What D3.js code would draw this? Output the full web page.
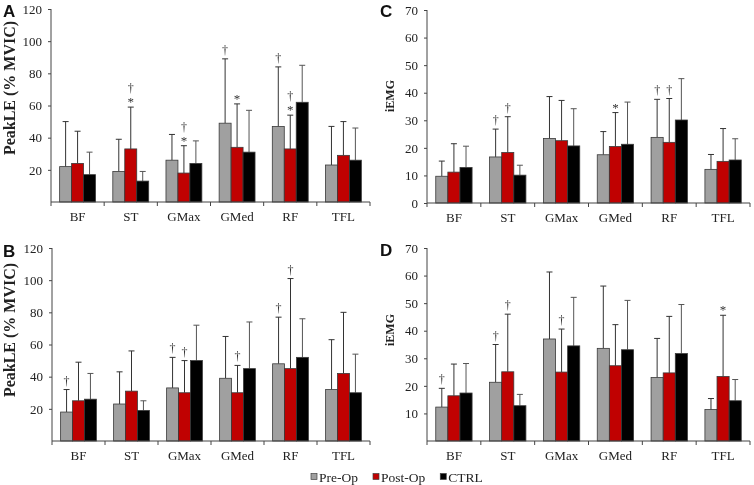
<!DOCTYPE html>
<html>
<head>
<meta charset="utf-8">
<script src="https://cdn.jsdelivr.net/npm/d3@7"></script>
<style>
  body { margin: 0; background: #fff; }
  svg { display: block; }
</style>
</head>
<body>
<div id="plot"></div>
<script>
// muscles and groups
const categories = ["BF", "ST", "GMax", "GMed", "RF", "TFL"];
const groups = ["Pre-Op", "Post-Op", "CTRL"];
const groupColors = ["#a0a0a0", "#c00000", "#000000"];

// panel A - PeakLE (% MVIC), mean and top of error bar
const aPreMean = [22, 19, 26, 49, 47, 23];
const aPreUpper = [50, 39, 42, 89, 84, 47];
const aPostMean = [24, 33, 18, 34, 33, 29];
const aPostUpper = [44, 59, 35, 61, 54, 50];
const aCtrlMean = [17, 13, 24, 31, 62, 26];
const aCtrlUpper = [31, 19, 38, 57, 85, 46];
const aPreNote = ["", "", "", "†", "†", ""];
const aPostNote = ["", "†*", "†*", "*", "†*", ""];
const aCtrlNote = ["", "", "", "", "", ""];

// panel B - PeakLE (% MVIC)
const bPreMean = [18, 23, 33, 39, 48, 32];
const bPreUpper = [32, 43, 52, 65, 77, 63];
const bPostMean = [25, 31, 30, 30, 45, 42];
const bPostUpper = [49, 56, 50, 47, 101, 80];
const bCtrlMean = [26, 19, 50, 45, 52, 30];
const bCtrlUpper = [42, 25, 72, 74, 76, 54];
const bPreNote = ["†", "", "†", "", "†", ""];
const bPostNote = ["", "", "†", "†", "†", ""];
const bCtrlNote = ["", "", "", "", "", ""];

// panel C - iEMG
const cPreMean = [9.7, 16.7, 23.4, 17.5, 23.8, 12.2];
const cPreUpper = [15.2, 26.8, 38.6, 25.9, 37.6, 17.6];
const cPostMean = [11.2, 18.3, 22.6, 20.5, 22.0, 15.1];
const cPostUpper = [21.5, 31.3, 37.2, 32.8, 37.9, 27.0];
const cCtrlMean = [12.9, 10.1, 20.7, 21.3, 30.1, 15.6];
const cCtrlUpper = [20.6, 13.7, 34.2, 36.6, 45.1, 23.3];
const cPreNote = ["", "†", "", "", "†", ""];
const cPostNote = ["", "†", "", "*", "†", ""];
const cCtrlNote = ["", "", "", "", "", ""];

// panel D - iEMG
const dPreMean = [12.3, 21.3, 37.0, 33.6, 23.0, 11.4];
const dPreUpper = [19.1, 35.0, 61.3, 56.2, 37.2, 15.4];
const dPostMean = [16.4, 25.1, 25.0, 27.3, 24.7, 23.4];
const dPostUpper = [27.9, 46.0, 40.6, 42.2, 45.2, 45.6];
const dCtrlMean = [17.4, 12.8, 34.5, 33.1, 31.7, 14.6];
const dCtrlUpper = [28.1, 16.9, 52.1, 51.0, 49.5, 22.3];
const dPreNote = ["†", "†", "", "", "", ""];
const dPostNote = ["", "†", "†", "", "", "*"];
const dCtrlNote = ["", "", "", "", "", ""];

const peakTicks = [20, 40, 60, 80, 100, 120];
const iemgTicksC = [0, 10, 20, 30, 40, 50, 60, 70];
const iemgTicksD = [10, 20, 30, 40, 50, 60, 70];

const serif = "'Liberation Serif', 'Times New Roman', serif";
const sans = "'Liberation Sans', Arial, sans-serif";

const W = 754, H = 485;
const svg = d3.select("#plot").append("svg")
    .attr("width", W)
    .attr("height", H);
// slight opacity keeps text greyscale-antialiased
const root = svg.append("g").attr("opacity", 0.999);

const panels = [
    { letter: "A", label: "PeakLE (% MVIC)", max: 120, ticks: peakTicks,
      left: 51, right: 370, top: 9, bottom: 202, labelX: 15, labelY: 88, labelSize: 16,
      mean: [aPreMean, aPostMean, aCtrlMean], upper: [aPreUpper, aPostUpper, aCtrlUpper],
      notes: [aPreNote, aPostNote, aCtrlNote] },
    { letter: "B", label: "PeakLE (% MVIC)", max: 120, ticks: peakTicks,
      left: 52, right: 370, top: 248, bottom: 441, labelX: 15, labelY: 330, labelSize: 16,
      mean: [bPreMean, bPostMean, bCtrlMean], upper: [bPreUpper, bPostUpper, bCtrlUpper],
      notes: [bPreNote, bPostNote, bCtrlNote] },
    { letter: "C", label: "iEMG", max: 70, ticks: iemgTicksC,
      left: 427, right: 750, top: 10, bottom: 203, labelX: 394, labelY: 96, labelSize: 12,
      mean: [cPreMean, cPostMean, cCtrlMean], upper: [cPreUpper, cPostUpper, cCtrlUpper],
      notes: [cPreNote, cPostNote, cCtrlNote] },
    { letter: "D", label: "iEMG", max: 70, ticks: iemgTicksD,
      left: 427, right: 750, top: 248, bottom: 441, labelX: 394, labelY: 330, labelSize: 12,
      mean: [dPreMean, dPostMean, dCtrlMean], upper: [dPreUpper, dPostUpper, dCtrlUpper],
      notes: [dPreNote, dPostNote, dCtrlNote] }
];

const panelLetterPos = { A: [3, 17], B: [3, 257], C: [380, 17], D: [380, 256] };

panels.forEach(function (p) {
    const g = root.append("g");

    const x0 = d3.scaleBand()
        .domain(categories)
        .range([p.left, p.right])
        .paddingInner(0.325)
        .paddingOuter(0.1625);
    const x1 = d3.scaleBand()
        .domain(groups)
        .range([0, x0.bandwidth()]);
    const y = d3.scaleLinear()
        .domain([0, p.max])
        .range([p.bottom, p.top]);

    // bars
    groups.forEach(function (grp, gi) {
        const rows = categories.map((c, i) => ({
            cat: c, mean: p.mean[gi][i], upper: p.upper[gi][i], note: p.notes[gi][i]
        }));
        const cx = d => x0(d.cat) + x1(grp) + x1.bandwidth() / 2;

        // error bars first
        g.selectAll(null)
            .data(rows)
            .enter().append("line")
            .attr("x1", cx).attr("x2", cx)
            .attr("y1", d => y(d.mean))
            .attr("y2", d => y(d.upper))
            .attr("stroke", gi === 2 ? "#555" : "#333")
            .attr("stroke-width", 1);
        g.selectAll(null)
            .data(rows)
            .enter().append("line")
            .attr("x1", d => cx(d) - 3).attr("x2", d => cx(d) + 3)
            .attr("y1", d => y(d.upper))
            .attr("y2", d => y(d.upper))
            .attr("stroke", gi === 2 ? "#555" : "#333")
            .attr("stroke-width", 1);

        g.selectAll(null)
            .data(rows)
            .enter().append("rect")
            .attr("x", d => x0(d.cat) + x1(grp))
            .attr("y", d => y(d.mean))
            .attr("width", x1.bandwidth())
            .attr("height", d => y(0) - y(d.mean))
            .attr("fill", groupColors[gi])
            .attr("stroke", "#3a3a3a")
            .attr("stroke-width", 0.8);

        // significance marks, stacked from the error bar upwards
        rows.filter(d => d.note).forEach(function (d) {
            const chars = d.note.split("").reverse();
            chars.forEach(function (ch, k) {
                let off;
                if (ch === "*") off = 1;
                else off = k === 0 ? 5 : 15;
                g.append("text")
                    .attr("x", cx(d))
                    .attr("y", y(d.upper) - off)
                    .attr("text-anchor", "middle")
                    .attr("font-family", serif)
                    .attr("font-size", ch === "*" ? 13 : 12)
                    .attr("fill", "#333")
                    .text(ch);
            });
        });
    });

    // y axis
    const yAxis = g.append("g")
        .attr("transform", "translate(" + p.left + ",0)")
        .call(d3.axisLeft(y).tickValues(p.ticks).tickSize(3).tickSizeOuter(0).tickPadding(6));
    yAxis.select(".domain").remove();
    yAxis.selectAll("line").attr("stroke", "#444");
    yAxis.selectAll("text")
        .attr("font-family", serif)
        .attr("font-size", 13)
        .attr("fill", "#222");
    g.append("line")
        .attr("x1", p.left).attr("x2", p.left)
        .attr("y1", y(p.max)).attr("y2", y(0))
        .attr("stroke", "#444");

    // x axis: labels at category centre, ticks at boundaries
    const xAxis = g.append("g")
        .attr("transform", "translate(0," + y(0) + ")")
        .call(d3.axisBottom(x0).tickSize(0).tickPadding(10));
    xAxis.select(".domain").remove();
    xAxis.selectAll("text")
        .attr("font-family", serif)
        .attr("font-size", 13)
        .attr("fill", "#222");
    g.append("line")
        .attr("x1", p.left).attr("x2", p.right)
        .attr("y1", y(0)).attr("y2", y(0))
        .attr("stroke", "#444");
    g.selectAll(null)
        .data(d3.range(categories.length + 1))
        .enter().append("line")
        .attr("x1", i => p.left + i * x0.step())
        .attr("x2", i => p.left + i * x0.step())
        .attr("y1", y(0)).attr("y2", y(0) + 4)
        .attr("stroke", "#444");

    // axis title
    g.append("text")
        .attr("transform", "translate(" + p.labelX + "," + p.labelY + ") rotate(-90)")
        .attr("text-anchor", "middle")
        .attr("font-family", serif)
        .attr("font-weight", "bold")
        .attr("font-size", p.labelSize)
        .attr("fill", "#222")
        .text(p.label);

    // panel letter
    g.append("text")
        .attr("x", panelLetterPos[p.letter][0])
        .attr("y", panelLetterPos[p.letter][1])
        .attr("font-family", sans)
        .attr("font-weight", "bold")
        .attr("font-size", 17)
        .attr("fill", "#111")
        .text(p.letter);
});

// legend
const legend = root.append("g").attr("transform", "translate(311,477)");
let lx = 0;
groups.forEach(function (grp, gi) {
    const item = legend.append("g").attr("transform", "translate(" + lx + ",0)");
    item.append("rect")
        .attr("x", 0).attr("y", -3.5)
        .attr("width", 6).attr("height", 6)
        .attr("fill", groupColors[gi])
        .attr("stroke", "#444")
        .attr("stroke-width", 0.7);
    const t = item.append("text")
        .attr("x", 8).attr("y", 4.5)
        .attr("font-family", serif)
        .attr("font-size", 13.5)
        .attr("fill", "#222")
        .text(grp);
    lx += 8 + t.node().getComputedTextLength() + 15;
});
</script>
</body>
</html>
